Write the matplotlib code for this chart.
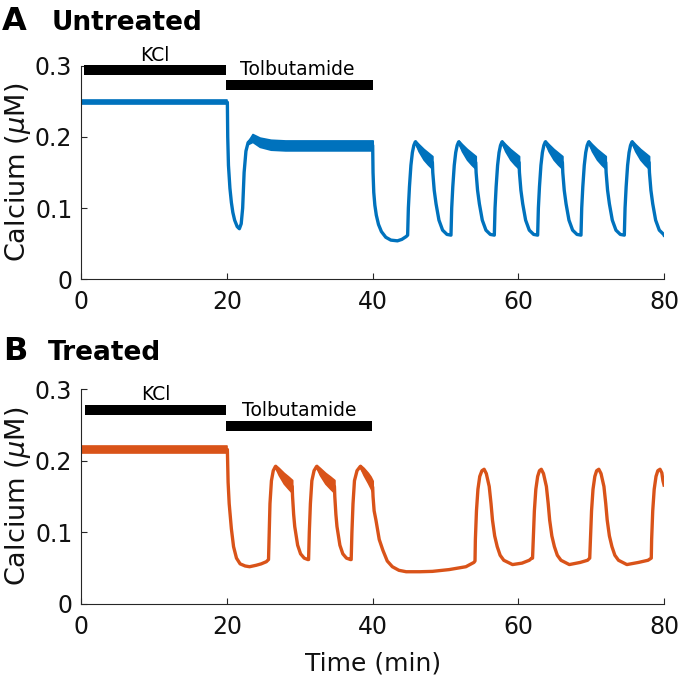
import matplotlib
matplotlib.use("Agg")
import matplotlib.pyplot as plt

BLUE = "#0072BD"
ORANGE = "#D95319"

# ---------------- Panel A (Untreated) ----------------
a_t = [0.0, 20.05, 20.1, 20.2, 20.4, 20.6, 20.8, 21.05, 21.4, 21.7, 21.95, 22.15, 22.35, 22.6, 22.9, 23.5,
       24.5, 26.0, 28.0, 40.0,
       40.05, 40.15, 40.3, 40.5, 40.8, 41.2, 41.8, 42.5, 43.4, 44.0, 44.6,
       44.80, 44.90, 45.05, 45.25, 45.45, 45.65, 45.85, 46.30, 47.00, 47.60, 48.20, 48.25, 48.45, 48.70, 49.10, 49.60, 50.20,
       50.75, 50.85, 51.00, 51.20, 51.40, 51.60, 51.80, 52.25, 52.95, 53.55, 54.15, 54.20, 54.40, 54.65, 55.05, 55.55, 56.15,
       56.70, 56.80, 56.95, 57.15, 57.35, 57.55, 57.75, 58.20, 58.90, 59.50, 60.10, 60.15, 60.35, 60.60, 61.00, 61.50, 62.10,
       62.65, 62.75, 62.90, 63.10, 63.30, 63.50, 63.70, 64.15, 64.85, 65.45, 66.05, 66.10, 66.30, 66.55, 66.95, 67.45, 68.05,
       68.60, 68.70, 68.85, 69.05, 69.25, 69.45, 69.65, 70.10, 70.80, 71.40, 72.00, 72.05, 72.25, 72.50, 72.90, 73.40, 74.00,
       74.55, 74.65, 74.80, 75.00, 75.20, 75.40, 75.60, 76.05, 76.75, 77.35, 77.95, 78.00, 78.20, 78.45, 78.85, 79.35, 79.95, 80.0]
a_v = [0.2485, 0.2485, 0.20, 0.16, 0.128, 0.108, 0.094, 0.083, 0.074, 0.071, 0.078, 0.10, 0.15, 0.18, 0.192, 0.198,
       0.193, 0.189, 0.188, 0.188,
       0.15, 0.122, 0.104, 0.090, 0.077, 0.067, 0.059, 0.055, 0.054, 0.056, 0.060,
       0.062, 0.100, 0.130, 0.160, 0.178, 0.188, 0.193, 0.185, 0.176, 0.170, 0.164, 0.150, 0.125, 0.106, 0.083, 0.069, 0.063,
       0.062, 0.100, 0.130, 0.160, 0.178, 0.188, 0.193, 0.185, 0.176, 0.170, 0.164, 0.150, 0.125, 0.106, 0.083, 0.069, 0.063,
       0.062, 0.100, 0.130, 0.160, 0.178, 0.188, 0.193, 0.185, 0.176, 0.170, 0.164, 0.150, 0.125, 0.106, 0.083, 0.069, 0.063,
       0.062, 0.100, 0.130, 0.160, 0.178, 0.188, 0.193, 0.185, 0.176, 0.170, 0.164, 0.150, 0.125, 0.106, 0.083, 0.069, 0.063,
       0.062, 0.100, 0.130, 0.160, 0.178, 0.188, 0.193, 0.185, 0.176, 0.170, 0.164, 0.150, 0.125, 0.106, 0.083, 0.069, 0.063,
       0.062, 0.100, 0.130, 0.160, 0.178, 0.188, 0.193, 0.185, 0.176, 0.170, 0.164, 0.150, 0.125, 0.106, 0.083, 0.069, 0.063, 0.062]

# fast-oscillation envelopes (thick bands) for panel A
a_bands = [
    ([0.0, 20.05], [0.2515, 0.2515], [0.2455, 0.2455]),
    ([22.9, 23.5, 24.5, 26.0, 28.0, 40.0], [0.194, 0.204, 0.199, 0.196, 0.195, 0.195],
     [0.190, 0.193, 0.186, 0.182, 0.181, 0.181]),
    ([45.85, 46.30, 47.00, 47.60, 48.20], [0.195, 0.190, 0.183, 0.178, 0.173], [0.191, 0.180, 0.168, 0.161, 0.155]),
    ([51.80, 52.25, 52.95, 53.55, 54.15], [0.195, 0.190, 0.183, 0.178, 0.173], [0.191, 0.180, 0.168, 0.161, 0.155]),
    ([57.75, 58.20, 58.90, 59.50, 60.10], [0.195, 0.190, 0.183, 0.178, 0.173], [0.191, 0.180, 0.168, 0.161, 0.155]),
    ([63.70, 64.15, 64.85, 65.45, 66.05], [0.195, 0.190, 0.183, 0.178, 0.173], [0.191, 0.180, 0.168, 0.161, 0.155]),
    ([69.65, 70.10, 70.80, 71.40, 72.00], [0.195, 0.190, 0.183, 0.178, 0.173], [0.191, 0.180, 0.168, 0.161, 0.155]),
    ([75.60, 76.05, 76.75, 77.35, 77.95], [0.195, 0.190, 0.183, 0.178, 0.173], [0.191, 0.180, 0.168, 0.161, 0.155]),
]

# ---------------- Panel B (Treated) ----------------
b_t = [0.0, 20.05, 20.08, 20.15, 20.3, 20.6, 20.9, 21.3, 21.8, 22.5, 23.1, 24.0, 24.7, 25.4, 25.7,
       25.8, 25.9, 26.1, 26.35, 26.65, 27.1, 27.8, 28.4, 28.95, 29.0, 29.15, 29.3, 29.7, 30.1, 30.6, 31.1,
       31.2, 31.3, 31.45, 31.65, 31.95, 32.3, 32.75, 33.5, 34.15, 34.75, 34.8, 34.95, 35.1, 35.5, 35.9, 36.4, 36.95,
       37.05, 37.15, 37.3, 37.5, 37.85, 38.3, 38.75, 39.35, 39.7, 40.0, 40.05, 40.2, 40.45, 40.9, 41.4, 42.0, 42.7,
       43.6, 44.6, 46.5, 48.2, 50.5, 52.8, 53.9, 54.05,
       54.1, 54.25, 54.45, 54.7, 55.0, 55.3, 55.6, 56.0, 56.25, 56.45, 56.75, 57.1, 57.5, 58.0, 59.2, 60.5, 61.5, 61.85,
       61.95, 62.05, 62.2, 62.4, 62.65, 62.9, 63.15, 63.45, 63.85, 64.1, 64.3, 64.6, 64.95, 65.35, 65.85, 67.0, 68.5, 69.5, 69.8,
       69.9, 70.05, 70.25, 70.5, 70.75, 71.05, 71.35, 71.75, 72.0, 72.2, 72.5, 72.85, 73.25, 73.75, 74.9, 76.5, 77.8, 78.25,
       78.3, 78.45, 78.65, 78.9, 79.15, 79.45, 79.7, 79.85, 80.0]
b_v = [0.2155, 0.2155, 0.20, 0.17, 0.14, 0.105, 0.080, 0.064, 0.056, 0.053, 0.052, 0.054, 0.056, 0.059, 0.062,
       0.10, 0.14, 0.172, 0.186, 0.192, 0.185, 0.176, 0.170, 0.164, 0.150, 0.125, 0.108, 0.082, 0.070, 0.064, 0.062,
       0.062, 0.10, 0.14, 0.172, 0.186, 0.192, 0.185, 0.176, 0.170, 0.164, 0.150, 0.125, 0.108, 0.082, 0.070, 0.064, 0.062,
       0.062, 0.10, 0.14, 0.172, 0.186, 0.192, 0.185, 0.177, 0.170, 0.163, 0.150, 0.13, 0.117, 0.09, 0.075, 0.060, 0.052,
       0.047, 0.045, 0.045, 0.0455, 0.048, 0.052, 0.058, 0.060,
       0.09, 0.13, 0.16, 0.178, 0.186, 0.188, 0.182, 0.164, 0.14, 0.117, 0.095, 0.080, 0.068, 0.061, 0.055, 0.057, 0.061, 0.064,
       0.064, 0.09, 0.13, 0.16, 0.178, 0.186, 0.188, 0.182, 0.164, 0.14, 0.117, 0.095, 0.080, 0.068, 0.061, 0.055, 0.058, 0.061, 0.064,
       0.09, 0.13, 0.16, 0.178, 0.186, 0.188, 0.182, 0.164, 0.14, 0.117, 0.095, 0.080, 0.068, 0.061, 0.055, 0.058, 0.061, 0.064,
       0.09, 0.13, 0.16, 0.178, 0.186, 0.188, 0.183, 0.172, 0.166]

b_bands = [
    ([0.0, 20.05], [0.2205, 0.2205], [0.2105, 0.2105]),
    ([26.65, 27.1, 27.8, 28.4, 28.95], [0.194, 0.190, 0.183, 0.178, 0.173], [0.190, 0.180, 0.168, 0.161, 0.155]),
    ([32.3, 32.75, 33.5, 34.15, 34.75], [0.194, 0.190, 0.183, 0.178, 0.173], [0.190, 0.180, 0.168, 0.161, 0.155]),
    ([38.3, 38.75, 39.35, 39.7, 40.0], [0.194, 0.190, 0.183, 0.178, 0.172], [0.190, 0.180, 0.169, 0.162, 0.155]),
]

# ---------------- Stimulus bars and labels ----------------
bar_labels = ["KCl", "Tolbutamide"]
a_bar_x = [(0.3, 19.9), (19.9, 40.0)]
a_bar_y = [0.2935, 0.2725]
b_bar_x = [(0.5, 19.9), (19.9, 39.9)]
b_bar_y = [0.2705, 0.2478]

xticks = [0, 20, 40, 60, 80]
yticks = [0, 0.1, 0.2, 0.3]
ytick_labels = ["0", "0.1", "0.2", "0.3"]

fig = plt.figure(figsize=(6.8, 6.82), dpi=100)
axA = fig.add_axes([0.1196, 0.5905, 0.8569, 0.3132])
axB = fig.add_axes([0.1196, 0.1144, 0.8569, 0.3152])

SPINE = "#262626"


def style(ax):
    ax.set_xlim(0, 80)
    ax.set_ylim(0, 0.3)
    ax.spines["top"].set_visible(False)
    ax.spines["right"].set_visible(False)
    for s in ("left", "bottom"):
        ax.spines[s].set_color(SPINE)
        ax.spines[s].set_linewidth(0.8)
    ax.set_xticks(xticks)
    ax.set_yticks(yticks)
    ax.set_yticklabels(ytick_labels)
    ax.tick_params(direction="in", length=4, width=0.8, color=SPINE, labelsize=17, labelcolor="#111111")
    ax.tick_params(axis="y", pad=6.5)
    ax.tick_params(axis="x", pad=8)
    ax.set_ylabel("Calcium ($\\mu$M)", fontsize=19.5, color="#111111")
    ax.yaxis.set_label_coords(-0.083, 0.5)


def draw(ax, t, v, bands, color, bar_x, bar_y):
    for bt, hi, lo in bands:
        ax.fill_between(bt, lo, hi, color=color, linewidth=1.2, edgecolor=color)
    ax.plot(t, v, color=color, linewidth=2.4, solid_joinstyle="round")
    for (x0, x1), y in zip(bar_x, bar_y):
        ax.plot([x0, x1], [y, y], color="black", linewidth=7.2, solid_capstyle="butt", clip_on=False)


style(axA)
style(axB)
draw(axA, a_t, a_v, a_bands, BLUE, a_bar_x, a_bar_y)
draw(axB, b_t, b_v, b_bands, ORANGE, b_bar_x, b_bar_y)

# bar labels
axA.text(10.1, a_bar_y[0] + 0.0205, bar_labels[0], ha="center", va="center", fontsize=13.5, clip_on=False)
axA.text(21.8, a_bar_y[1] + 0.0215, bar_labels[1], ha="left", va="center", fontsize=13.5, clip_on=False)
axB.text(10.2, b_bar_y[0] + 0.0225, bar_labels[0], ha="center", va="center", fontsize=13.5, clip_on=False)
axB.text(22.0, b_bar_y[1] + 0.0225, bar_labels[1], ha="left", va="center", fontsize=13.5, clip_on=False)

fig.text(372.6 / 680, (682 - 663) / 682, "Time (min)", ha="center", va="center", fontsize=18, color="#111111")

# panel titles
fig.text(2 / 680, (682 - 30) / 682, "A", fontsize=23, fontweight="bold", va="baseline", ha="left")
fig.text(52 / 680, (682 - 30) / 682, "Untreated", fontsize=19, fontweight="bold", va="baseline", ha="left")
fig.text(3 / 680, (682 - 360) / 682, "B", fontsize=23, fontweight="bold", va="baseline", ha="left")
fig.text(48 / 680, (682 - 360) / 682, "Treated", fontsize=19, fontweight="bold", va="baseline", ha="left")

fig.savefig("out.png", dpi=100, facecolor="white")
